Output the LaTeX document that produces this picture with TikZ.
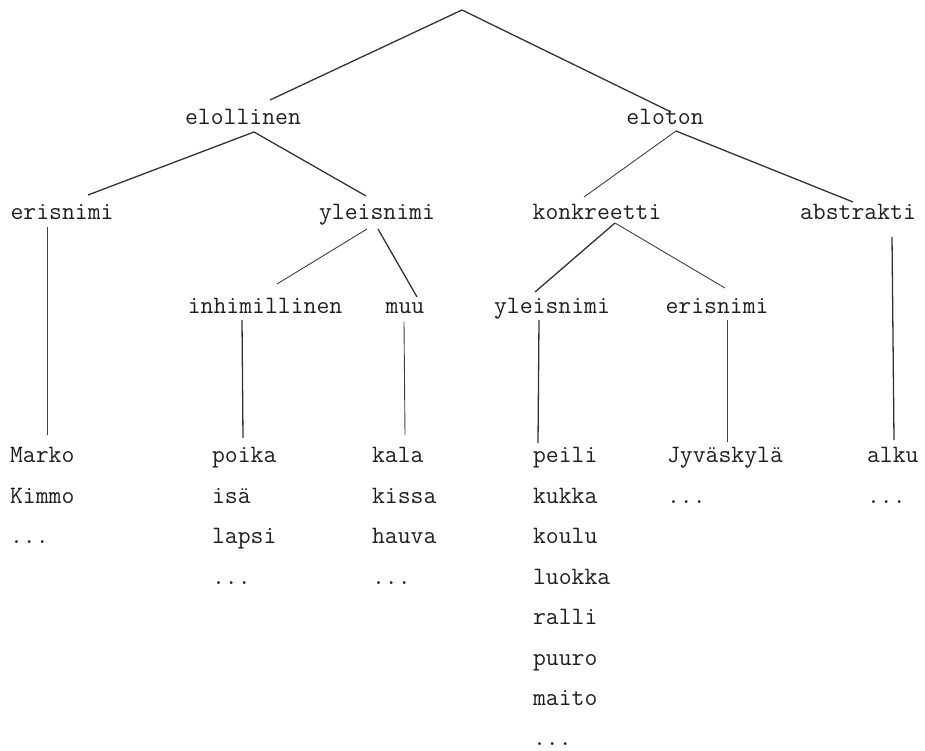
\documentclass[tikz,border=0pt]{standalone}
\usepackage{fontspec}
\begin{document}
\begin{tikzpicture}[x=1pt,y=-1pt,
  lbl/.style={inner sep=0pt,outer sep=0pt,anchor=base,font=\ttfamily\fontsize{25}{25}\selectfont,text=black!88},
  leaf/.style={lbl,anchor=base west},
  edge/.style={draw=black!80,line width=1.3pt},
  thinedge/.style={draw=black!75,line width=0.9pt}]
\useasboundingbox (0,0) rectangle (925,751);

% inner nodes
\node[lbl] (elollinen) at (243,125) {elollinen};
\node[lbl] (eloton) at (665,125) {eloton};
\node[lbl] (erisnimiA) at (62,220) {erisnimi};
\node[lbl] (yleisnimiA) at (377,220) {yleisnimi};
\node[lbl] (konkreetti) at (597,220) {konkreetti};
\node[lbl] (abstrakti) at (858,220) {abstrakti};
\node[lbl] (inhimillinen) at (265,313) {inhimillinen};
\node[lbl] (muu) at (405,313) {muu};
\node[lbl] (yleisnimiB) at (552,313) {yleisnimi};
\node[lbl] (erisnimiB) at (717,313) {erisnimi};

% connector end points
\coordinate (root) at (462,10);
\coordinate (elollinenT) at (270,100);
\coordinate (elotonT) at (671,112);
\coordinate (elollinenB) at (254,132);
\coordinate (erisnimiAT) at (88,195);
\coordinate (yleisnimiAT) at (366,196);
\coordinate (elotonB) at (676,131);
\coordinate (konkreettiT) at (584,197);
\coordinate (abstraktiT) at (853,202);
\coordinate (yleisnimiABl) at (367,229);
\coordinate (yleisnimiABr) at (378,229);
\coordinate (inhimillinenT) at (277,284);
\coordinate (muuT) at (417,297);
\coordinate (konkreettiB) at (615,223);
\coordinate (yleisnimiBT) at (535,292);
\coordinate (erisnimiBT) at (725,288);
\coordinate (erisnimiAB) at (47,227);
\coordinate (inhimillinenB) at (242,320);
\coordinate (muuB) at (404,322);
\coordinate (yleisnimiBB) at (539,320);
\coordinate (erisnimiBB) at (727,320);
\coordinate (abstraktiB) at (892,237);

% leaves
\node[leaf] (marko) at (10,462) {Marko};
\node[leaf] (kimmo) at (10,503) {Kimmo};
\node[leaf] (dotsA) at (10,543) {...};
\node[leaf] (poika) at (212,462) {poika};
\node[leaf] (isa) at (212,503) {isä};
\node[leaf] (lapsi) at (212,543) {lapsi};
\node[leaf] (dotsB) at (212,584) {...};
\node[leaf] (kala) at (372,462) {kala};
\node[leaf] (kissa) at (372,503) {kissa};
\node[leaf] (hauva) at (372,543) {hauva};
\node[leaf] (dotsC) at (372,584) {...};
\node[leaf] (peili) at (533,462) {peili};
\node[leaf] (kukka) at (533,503) {kukka};
\node[leaf] (koulu) at (533,543) {koulu};
\node[leaf] (luokka) at (533,584) {luokka};
\node[leaf] (ralli) at (533,624) {ralli};
\node[leaf] (puuro) at (533,665) {puuro};
\node[leaf] (maito) at (533,705) {maito};
\node[leaf] (dotsD) at (533,745) {...};
\node[leaf] (jkyla) at (667,462) {Jyväskylä};
\node[leaf] (dotsE) at (667,503) {...};
\node[leaf] (alku) at (867,462) {alku};
\node[leaf] (dotsF) at (867,503) {...};

\coordinate (markoT) at (47,435);
\coordinate (poikaT) at (243,438);
\coordinate (kalaT) at (405,435);
\coordinate (peiliT) at (538,443);
\coordinate (jkylaT) at (727,442);
\coordinate (alkuT) at (894,440);

% connectors
\draw[edge] (elollinenT) -- (root) -- (elotonT);
\draw[edge] (erisnimiAT) -- (elollinenB) -- (yleisnimiAT);
\draw[thinedge] (konkreettiT) -- (elotonB);
\draw[edge] (elotonB) -- (abstraktiT);
\draw[thinedge] (yleisnimiABl) -- (inhimillinenT);
\draw[edge] (yleisnimiABr) -- (muuT);
\draw[edge] (yleisnimiBT) -- (konkreettiB);
\draw[thinedge] (konkreettiB) -- (erisnimiBT);
\draw[thinedge] (erisnimiAB) -- (markoT);
\draw[edge] (inhimillinenB) -- (poikaT);
\draw[thinedge] (muuB) -- (kalaT);
\draw[edge] (yleisnimiBB) -- (peiliT);
\draw[thinedge] (erisnimiBB) -- (jkylaT);
\draw[edge] (abstraktiB) -- (alkuT);
\end{tikzpicture}
\end{document}
